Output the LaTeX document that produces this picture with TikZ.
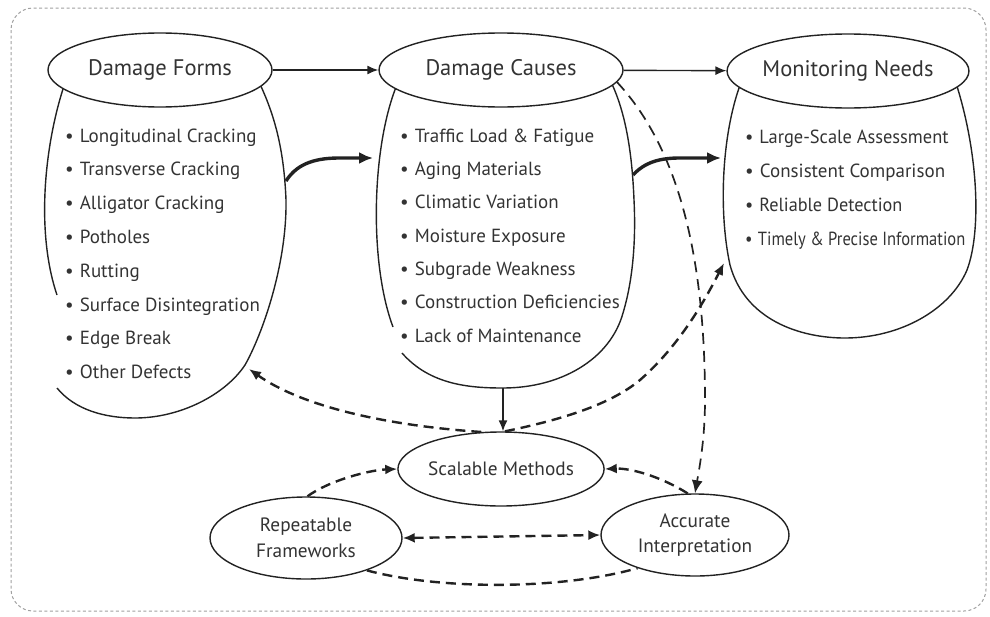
\documentclass[tikz,border=0pt]{standalone}
\usepackage{fontspec}
\usepackage{graphicx}
\setmainfont{PT Sans}
\usetikzlibrary{arrows.meta,shapes.geometric}
\definecolor{ink}{HTML}{222222}
\definecolor{txt}{HTML}{333333}
\definecolor{framegray}{HTML}{A0A0A0}

\begin{document}
\begin{tikzpicture}[x=1pt,y=-1pt,
  head/.style={ellipse,draw=ink,line width=1.4pt,fill=white,inner sep=0,
    minimum height=74pt,font=\fontsize{22.5}{26}\selectfont,text=txt},
  item/.style={anchor=base west,inner sep=0,font=\fontsize{19}{22}\selectfont,text=txt},
  lowbox/.style={ellipse,draw=ink,line width=1.4pt,fill=white,inner sep=0,
    align=center,font=\fontsize{19.3}{25.5}\selectfont,text=txt},
  outline/.style={draw=ink,line width=1.4pt},
  flow/.style={draw=ink,line width=1.4pt,-{Latex[length=11pt,width=9pt]}},
  boldflow/.style={draw=ink,line width=3.4pt,-{Latex[length=14pt,width=12pt]}},
  dflow/.style={draw=ink,line width=2.4pt,dash pattern=on 10pt off 6pt},
  dtip/.style={-{Latex[length=12pt,width=10pt]}},
  thindash/.style={draw=ink,line width=1.7pt,dash pattern=on 11pt off 7pt,
    -{Latex[length=13pt,width=11pt]}}
]
\useasboundingbox (0,0) rectangle (990,616);

% outer dashed frame
\draw[framegray,line width=1pt,dash pattern=on 3pt off 2.5pt,rounded corners=22pt]
  (11,8) rectangle (986,611);

% column bodies (drawn before the header ellipses, which cover their tops)
\draw[outline] (66,80) .. controls (45,140) and (35,230) .. (57,295);
\draw[outline] (57,388) .. controls (75,410) and (105,418) .. (135,418)
  .. controls (180,418) and (225,395) .. (245,365)
  .. controls (262,335) and (287,265) .. (286,200)
  .. controls (284,150) and (275,115) .. (258,80);

\draw[outline] (399,80) .. controls (372,140) and (368,260) .. (393,327);
\draw[outline] (402,353) .. controls (430,385) and (470,388) .. (503,388)
  .. controls (560,388) and (610,360) .. (623,313)
  .. controls (633,280) and (636,240) .. (634,200)
  .. controls (632,150) and (625,110) .. (610,80);

\draw[outline] (742,80) .. controls (722,130) and (718,210) .. (730,265)
  .. controls (745,320) and (800,338) .. (845,338)
  .. controls (900,338) and (950,310) .. (967,270)
  .. controls (982,230) and (978,150) .. (955,80);

% attachment points on the bodies
\coordinate (formsR) at (286,181);
\coordinate (causesL) at (373,158);
\coordinate (causesR) at (633,175);
\coordinate (needsL) at (721,158);
\coordinate (causesB) at (503,388);
\coordinate (formsBR) at (249,369);
\coordinate (needsBL) at (724,263);

% headers
\node[head,minimum width=224pt] (formsH) at (160,70) {Damage Forms};
\node[head,minimum width=244pt] (causesH) at (501,70) {Damage Causes};
\node[head,minimum width=240pt] (needsH) at (848,71) {Monitoring Needs};

% bullet lists
\node[item] (f1) at (65,142.0) {•\hspace{0.32em}Longitudinal Cracking};
\node[item] (f2) at (65,175.8) {•\hspace{0.32em}Transverse Cracking};
\node[item] (f3) at (65,209.6) {•\hspace{0.32em}Alligator Cracking};
\node[item] (f4) at (65,243.4) {•\hspace{0.32em}Potholes};
\node[item] (f5) at (65,277.2) {•\hspace{0.32em}Rutting};
\node[item] (f6) at (65,311.0) {•\hspace{0.32em}Surface Disintegration};
\node[item] (f7) at (65,344.8) {•\hspace{0.32em}Edge Break};
\node[item] (f8) at (65,378.6) {•\hspace{0.32em}Other Defects};

\node[item] (c1) at (400,142.0) {•\hspace{0.32em}Traffic Load \& Fatigue};
\node[item] (c2) at (400,175.3) {•\hspace{0.32em}Aging Materials};
\node[item] (c3) at (400,208.7) {•\hspace{0.32em}Climatic Variation};
\node[item] (c4) at (400,242.0) {•\hspace{0.32em}Moisture Exposure};
\node[item] (c5) at (400,275.3) {•\hspace{0.32em}Subgrade Weakness};
\node[item] (c6) at (400,308.7) {•\hspace{0.32em}Construction Deficiencies};
\node[item] (c7) at (400,342.0) {•\hspace{0.32em}Lack of Maintenance};

\node[item] (m1) at (745,143) {\scalebox{0.97}[1]{•\hspace{0.32em}Large-Scale Assessment}};
\node[item] (m2) at (745,177) {•\hspace{0.32em}Consistent Comparison};
\node[item] (m3) at (745,211) {\scalebox{0.96}[1]{•\hspace{0.32em}Reliable Detection}};
\node[item] (m4) at (745,245) {\scalebox{0.87}[1]{•\hspace{0.32em}Timely \& Precise Information}};

% lower cycle
\node[lowbox,minimum width=192pt,minimum height=74pt] (scal) at (501,469) {Scalable Methods};
\node[lowbox,minimum width=192pt,minimum height=82pt] (rep) at (306,538) {Repeatable\\Frameworks};
\node[lowbox,minimum width=188pt,minimum height=82pt] (acc) at (695,535) {Accurate\\Interpretation};

% header flow
\draw[flow] (formsH) -- (causesH);
\draw[flow] (causesH) -- (needsH);

% body-to-body flow
\draw[boldflow] (formsR) .. controls (298,162) and (318,158) .. (340,158) -- (causesL);
\draw[boldflow] (causesR) .. controls (645,162) and (660,158) .. (680,158) -- (needsL);
\draw[flow] (causesB) -- (causesB |- scal.north);

% feedback from the methods
\draw[dflow,dtip] (scal.118) .. controls (380,425) and (300,405) .. (formsBR);
\draw[dflow,dtip] (scal.84) .. controls (560,420) and (610,405) .. (640,380)
  .. controls (680,345) and (705,300) .. (needsBL);
\draw[thindash] (causesH.-6) .. controls (680,150) and (705,260) .. (705,400)
  .. controls (705,440) and (699,470) .. (acc.north);

% lower cycle links
\draw[dflow,dtip] (acc.100) .. controls (660,476) and (630,468) .. (scal.east);
\draw[dflow,dtip] (rep.88) .. controls (330,480) and (370,470) .. (scal.west);
\draw[dflow,{Latex[length=12pt,width=10pt]}-{Latex[length=12pt,width=10pt]}]
  (rep.east) -- (acc.west);
\draw[dflow] (rep.-28) .. controls (440,590) and (560,590) .. (acc.-150);
\end{tikzpicture}
\end{document}
